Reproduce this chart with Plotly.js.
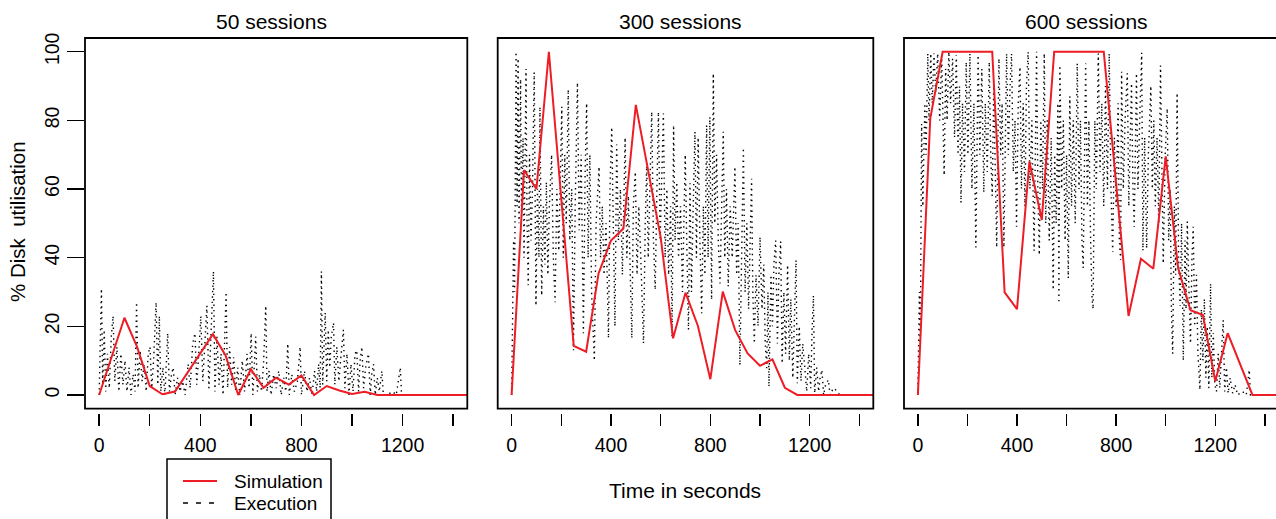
<!DOCTYPE html>
<html>
<head>
<meta charset="utf-8">
<script src="https://cdn.plot.ly/plotly-3.0.1.min.js"></script>
<style>html,body{margin:0;padding:0;background:#fff;}#chart{width:1276px;height:519px;}</style>
</head>
<body>
<div id="chart"></div>
<script>
// ---------- data ----------
const panelTitles = ["50 sessions", "300 sessions", "600 sessions"];
const xTickVals = [0, 200, 400, 600, 800, 1000, 1200, 1400];
const xTickText = ["0", "", "400", "", "800", "", "1200", ""];
const yTickVals = [0, 20, 40, 60, 80, 100];
const yTickText = ["0", "20", "40", "60", "80", "100"];

// Simulation (red line)
const sim50_t  = [0, 100, 150, 200, 250, 300, 450, 500, 550, 600, 650, 700, 750, 800, 850, 900, 950, 1000, 1050, 1100, 1500];
const sim50_v  = [0, 22.5, 14, 2.6, 0.2, 1, 17.7, 11.5, 0, 7.5, 2.1, 5, 3, 5.7, 0, 2.6, 1.3, 0.3, 0.9, 0, 0];
const sim300_t = [0, 50, 100, 150, 250, 300, 350, 400, 450, 500, 600, 650, 700, 750, 800, 850, 900, 950, 1000, 1050, 1100, 1150, 1500];
const sim300_v = [0, 65.5, 60, 100, 14.3, 12.6, 35.4, 45, 48.5, 84.5, 46, 16.5, 29.8, 20.1, 4.6, 30.1, 18.9, 12.1, 8.5, 10.4, 2.1, 0, 0];
const sim600_t = [0, 50, 100, 300, 350, 400, 450, 500, 550, 750, 850, 900, 950, 1000, 1050, 1100, 1150, 1200, 1250, 1350, 1500];
const sim600_v = [0, 80.6, 100, 100, 29.9, 25, 68, 51, 100, 100, 23, 39.7, 36.8, 69.5, 37, 24.7, 23.3, 4, 18, 0, 0];

// Execution (black dotted line), [time, value] vertices
const exec50 = [[0,0],[5,14],[9,31],[14,3],[20,19],[26,1],[33,12],[40,2],[48,17],[55,23],[62,4],[70,14],[78,1],[86,12],[94,3],[102,10],[110,1],[118,8],[126,0],[134,6],[142,1],[148,27],[154,2],[162,13],[170,4],[178,9],[186,1],[194,12],[201,14],[208,2],[216,11],[225,27],[232,3],[238,23],[244,1],[252,8],[260,0],[271,18],[278,1],[286,6],[293,8],[300,0],[310,5],[320,1],[330,4],[340,0],[352,9],[360,2],[370,15],[379,18],[386,3],[394,12],[402,23],[410,4],[418,16],[426,26],[434,2],[442,20],[452,36],[458,1],[466,17],[474,3],[482,12],[490,0],[502,30],[508,2],[516,14],[524,3],[532,11],[540,1],[548,8],[556,0],[566,10],[575,1],[585,12],[593,2],[601,18],[608,0],[619,17],[626,1],[634,6],[642,1],[650,9],[659,26],[664,1],[672,7],[680,0],[690,6],[700,2],[710,7],[720,0],[730,5],[738,1],[746,15],[752,0],[762,6],[772,1],[784,4],[795,14],[800,0],[812,7],[822,1],[832,5],[842,0],[852,7],[860,1],[868,9],[874,2],[879,36],[884,3],[890,14],[894,24],[900,4],[906,19],[912,8],[918,17],[927,21],[932,3],[940,14],[948,4],[956,11],[966,19],[972,2],[980,12],[988,0],[996,9],[1004,1],[1012,12],[1019,13],[1026,1],[1032,10],[1039,14],[1046,2],[1054,8],[1065,12],[1072,0],[1078,6],[1085,9],[1092,0],[1100,5],[1108,1],[1118,7],[1124,0],[1140,0],[1160,1],[1175,0],[1191,8],[1196,0],[1500,0]];

const exec300 = [[0,0],[8,45],[12,30],[18,100],[22,55],[26,98],[30,50],[36,92],[40,52],[46,75],[50,40],[58,95],[62,51],[67,32],[72,70],[78,45],[84,60],[91,94],[98,26],[104,60],[110,40],[114,84],[121,29],[128,55],[134,38],[140,62],[146,35],[152,55],[161,70],[168,40],[175,27],[182,60],[190,42],[196,65],[202,84],[208,40],[214,70],[220,50],[228,89],[234,45],[242,60],[249,13],[256,55],[265,91],[272,48],[280,70],[289,18],[296,65],[302,85],[308,40],[315,70],[322,30],[333,10],[340,50],[352,66.5],[358,40],[365,55],[372,35],[380,50],[390,16.5],[396,60],[403,78],[410,40],[416,20],[423,73],[430,45],[438,60],[446,35],[457,75],[464,40],[470,58],[478,30],[484,16.5],[490,55],[498,65],[505,35],[512,55],[520,40],[531,15],[538,50],[544,67.5],[550,40],[556,60],[564,82.5],[571,45],[578,30.6],[585,60],[591,82.5],[598,45],[605,65],[611,82],[618,40],[625,60],[632,35],[640,55],[646,17],[652,78.6],[658,45],[665,62],[672,40],[680,55],[688,30],[699,70],[705,45],[712,19],[718,61.7],[724,30],[731,55],[738,76.7],[744,40],[751,75],[758,45],[765,23.8],[772,55],[778,35],[785,78.6],[791,40],[798,81],[805,27.7],[812,93.7],[818,50],[825,70],[832,45],[839,32.5],[846,60],[852,76.7],[858,40],[865,60],[872,31.6],[880,55],[888,40],[899,66.5],[906,35],[912,50],[919,8.7],[926,45],[933,72],[940,30],[947,50],[954,25],[960,45],[966,63],[971,30],[977,15],[984,35],[992,20],[1000,46],[1008,25],[1015,38],[1021,15],[1027,7.8],[1032,30],[1036,2.4],[1044,35],[1050,20],[1056,38],[1063,45],[1070,15],[1076,35],[1083,44.7],[1089,9.2],[1096,30],[1103,12],[1111,37.9],[1118,10],[1124,28],[1132,5],[1138,25],[1145,39.3],[1150,3.4],[1158,20],[1165,4],[1172,15],[1181,7.3],[1188,1],[1196,12],[1204,2],[1210,20],[1215,29],[1220,0.5],[1228,8],[1236,1],[1242,5],[1249,7.3],[1256,0],[1264,3],[1275,4.4],[1282,0],[1295,2],[1313,1],[1320,0],[1500,0]];

const exec600 = [[0,0],[6,30],[10,15],[15,79],[20,55],[28,85],[33,70],[40,99.5],[45,80],[52,99.5],[58,85],[65,99.5],[72,88],[80,99.5],[88,80],[96,99],[106,64],[112,95],[118,80],[125,100],[132,85],[140,98],[148,75],[155,99],[162,70],[168,90],[174,56],[180,85],[188,65],[195,97],[202,70],[210,99.5],[218,60],[226,85],[234,43],[243,99],[250,70],[258,95],[266,59],[272,85],[280,65],[288,97],[294,70],[300,58],[306,90],[312,65],[318,43],[327,98],[334,70],[340,85],[347,43],[358,99.5],[365,70],[372,90],[378,99.5],[385,65],[392,80],[398,49],[405,85],[412,95.6],[418,60],[425,85],[432,55],[438,90],[445,100],[452,60],[460,80],[469,42],[479,100],[484,60],[490,40.8],[496,80],[503,60],[510,99.5],[516,50],[522,80],[530,45],[538,75],[546,30.6],[552,70],[558,50],[565,85],[569,26.7],[573,96],[580,60],[587,80],[594,45],[600,70],[607,34],[613,87],[620,55],[627,80],[635,50],[643,96.6],[650,60],[656,80],[662,45],[667,37],[672,75],[677,96.6],[684,55],[690,80],[697,45],[703,27.7],[707,25],[714,80],[720,60],[728,99.5],[735,65],[742,85],[750,55],[757,90],[765,60],[772,99.5],[779,60],[786,41.7],[793,75],[800,55],[808,85],[813,45],[818,39.3],[822,94.2],[829,60],[836,80],[845,93.7],[851,55],[857,75],[862,90.8],[868,60],[873,49],[882,93.7],[888,60],[895,80],[903,99.7],[908,42],[915,75],[923,42.7],[930,70],[940,90],[946,60],[952,80],[958,55],[965,75],[972,50],[979,96],[985,55],[990,38.3],[998,70],[1006,83.5],[1012,45],[1018,60],[1023,25],[1028,12],[1035,55],[1040,35],[1046,88],[1052,40],[1058,26],[1064,50],[1071,10],[1078,45],[1082,25],[1087,50.5],[1094,30],[1100,15],[1106,40],[1111,49],[1117,20],[1124,35],[1130,12],[1138,1.5],[1144,25],[1150,10],[1156,28],[1162,5],[1168,20],[1174,2],[1181,32.5],[1186,5],[1192,18],[1198,3],[1205,1],[1212,12],[1218,2],[1226,15],[1232,21.8],[1238,1],[1245,8],[1252,0.5],[1260,5],[1270,0.5],[1280,3],[1290,0],[1310,1],[1325,0],[1337,7.3],[1342,0],[1500,0]];

// ---------- layout geometry (pixels) ----------
const W = 1276, H = 519;
const px = v => v / W;
const py = v => 1 - v / H;
const FONT = "Liberation Sans, Arial, Helvetica, sans-serif";
const panels = [
  {x0: 85,    x1: 467.3, range: [-56, 1456], titleX: 271},
  {x0: 497.7, x1: 873.3, range: [-56, 1456], titleX: 680},
  {x0: 904,   x1: 1276,  range: [-56, 1445], titleX: 1086}
];
const boxTop = 38, boxBottom = 408.7, axisY = 413;

const execData = [exec50, exec300, exec600];
const simT = [sim50_t, sim300_t, sim600_t];
const simV = [sim50_v, sim300_v, sim600_v];

const traces = [];
const layout = {
  width: W, height: H,
  margin: {l: 0, r: 0, t: 0, b: 0},
  paper_bgcolor: "#ffffff", plot_bgcolor: "#ffffff",
  showlegend: false,
  font: {family: FONT, color: "#000", size: 19.5},
  shapes: [], annotations: []
};

panels.forEach((p, i) => {
  const s = i === 0 ? "" : String(i + 1);
  traces.push({
    type: "scatter", mode: "lines", name: "Execution",
    x: execData[i].map(d => d[0]), y: execData[i].map(d => d[1]),
    xaxis: "x" + s, yaxis: "y" + s,
    line: {color: "#000", width: 1.4, dash: "1.4px,4px"},
    hoverinfo: "skip"
  });
  traces.push({
    type: "scatter", mode: "lines", name: "Simulation",
    x: simT[i], y: simV[i],
    xaxis: "x" + s, yaxis: "y" + s,
    line: {color: "#ee1c25", width: 2},
    hoverinfo: "skip"
  });
  layout["xaxis" + s] = {
    domain: [px(p.x0), px(p.x1)], range: p.range, anchor: "free", position: py(axisY),
    showline: false, showgrid: false, zeroline: false,
    ticks: "outside", ticklen: 12, tickwidth: 1.5, tickcolor: "#000",
    tickvals: xTickVals, ticktext: xTickText, tickfont: {size: 19.5, family: FONT},
    ticklabelstandoff: 3,
    fixedrange: true
  };
  layout["yaxis" + s] = {
    domain: [py(boxBottom), py(boxTop)], range: [-4, 104], anchor: "x" + s,
    showline: false, showgrid: false, zeroline: false,
    ticks: i === 0 ? "outside" : "", ticklen: 17, tickwidth: 1.5, tickcolor: "#000",
    tickvals: i === 0 ? yTickVals : [], ticktext: i === 0 ? yTickText : [],
    showticklabels: i === 0, tickangle: -90, tickfont: {size: 19.5, family: FONT},
    fixedrange: true
  };
  layout.shapes.push({
    type: "rect", xref: "paper", yref: "paper",
    x0: px(p.x0), x1: i === 2 ? px(1290) : px(p.x1), y0: py(boxBottom), y1: py(boxTop),
    line: {color: "#000", width: 1.8}, fillcolor: "rgba(0,0,0,0)", layer: "above"
  });
  layout.annotations.push({
    text: panelTitles[i], xref: "paper", yref: "paper",
    x: px(p.titleX), y: py(21), xanchor: "center", yanchor: "middle",
    showarrow: false, font: {size: 21, family: FONT, color: "#000"}
  });
});

// axis titles
layout.annotations.push({
  text: "Time in seconds", xref: "paper", yref: "paper",
  x: px(685), y: py(490), xanchor: "center", yanchor: "middle",
  showarrow: false, font: {size: 21, family: FONT, color: "#000"}
});
layout.annotations.push({
  text: "% Disk\u00a0 utilisation", xref: "paper", yref: "paper",
  x: px(17), y: py(222), xanchor: "center", yanchor: "middle", textangle: -90,
  showarrow: false, font: {size: 20.5, family: FONT, color: "#000"}
});

// legend (box cut off by the bottom edge, as in the reference)
layout.shapes.push({
  type: "rect", xref: "paper", yref: "paper",
  x0: px(167), x1: px(331), y0: py(540), y1: py(459),
  line: {color: "#000", width: 1.5}, fillcolor: "#fff"
});
layout.shapes.push({
  type: "line", xref: "paper", yref: "paper",
  x0: px(183), x1: px(217), y0: py(481), y1: py(481),
  line: {color: "#ee1c25", width: 2}
});
layout.shapes.push({
  type: "line", xref: "paper", yref: "paper",
  x0: px(183), x1: px(217), y0: py(503), y1: py(503),
  line: {color: "#000", width: 1.6, dash: "5px,8px"}
});
layout.annotations.push({
  text: "Simulation", xref: "paper", yref: "paper",
  x: px(232), y: py(481), xanchor: "left", yanchor: "middle",
  showarrow: false, font: {size: 19, family: FONT, color: "#000"}
});
layout.annotations.push({
  text: "Execution", xref: "paper", yref: "paper",
  x: px(232), y: py(503), xanchor: "left", yanchor: "middle",
  showarrow: false, font: {size: 19, family: FONT, color: "#000"}
});

Plotly.newPlot("chart", traces, layout, {staticPlot: true, displayModeBar: false});
</script>
</body>
</html>
